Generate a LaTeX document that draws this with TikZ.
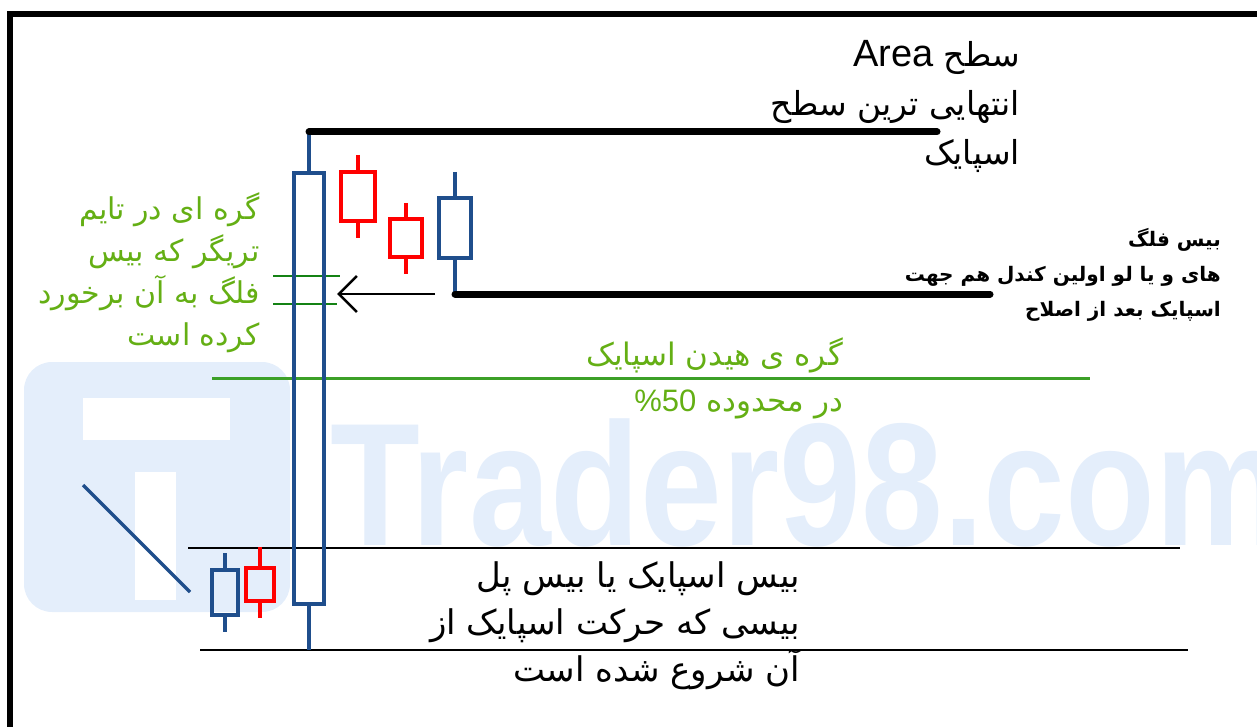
\documentclass[tikz,border=0pt]{standalone}
\usepackage{fontspec}
\setmainfont{Liberation Sans}
\newfontfamily\lat{Liberation Sans}
\newfontfamily\fa[Script=Arabic]{DejaVu Sans}
\TeXXeTstate=1
\usetikzlibrary{arrows.meta, positioning}
\definecolor{candleblue}{RGB}{31,78,140}
\definecolor{candlered}{RGB}{255,0,0}
\definecolor{levelgreen}{RGB}{20,130,20}
\definecolor{midgreen}{RGB}{60,160,40}
\definecolor{notegreen}{RGB}{100,175,20}
\definecolor{wmblue}{RGB}{228,238,251}

\begin{document}
\begin{tikzpicture}[
  x=1pt, y=-1pt,
  candle/.style={line width=3.2pt},
  heavy/.style={line width=7pt, line cap=round},
  thinlevel/.style={line width=2.4pt},
  zone/.style={draw=levelgreen, line width=2.6pt},
  fanote/.style={align=right, inner sep=0pt},
  >={Straight Barb[length=18pt, width=36pt]}
]
\useasboundingbox (0,0) rectangle (1257,727);

% watermark
\fill[wmblue, rounded corners=28pt] (24,362) rectangle (290,612);
\fill[white] (83,398) rectangle (230,440);
\fill[white] (135,472) rectangle (176,600);
\node[wmblue, font=\lat\bfseries\fontsize{175}{175}\selectfont, xscale=0.84,
      anchor=base west, inner sep=0pt] (wm) at (330,545) {Trader98.com};

% frame
\draw[line width=6pt] (9.5,727) -- (9.5,14) -- (1257,14);

% levels
\draw[zone] (273,276) -- (340,276);
\draw[zone] (273,304) -- (337,304);
\draw[midgreen, line width=3pt] (212,378) -- (1090,378);
\draw[thinlevel] (188,548) -- (1180,548);
\draw[thinlevel] (200,650) -- (1188,650);
\draw[candle, candleblue] (83,485) -- (190,592);

% candles: x / wick top / body top / body bottom / wick bottom / half width / colour
\foreach \x/\wt/\bt/\bb/\wb/\w/\c in {
    309/132/173/604/650/15/candleblue,
    358/155/172/221/238/17/candlered,
    406/203/219/257/274/16/candlered,
    455/172/198/258/294/16/candleblue,
    225/553/570/615/632/13/candleblue,
    260/547/568/601/618/14/candlered}
  {\draw[candle, draw=\c] (\x,\wt) -- (\x,\bt) (\x,\bb) -- (\x,\wb);
   \draw[candle, draw=\c] (\x-\w,\bt) rectangle (\x+\w,\bb);}

\coordinate (top) at (309,132);
\coordinate (flag) at (455,294);
\draw[heavy] (top) -- (937,132);
\draw[heavy] (flag) -- (990,294);

\coordinate (tail) at (435,294);
\coordinate (tip) at (337,294);
\draw[->, line width=2.6pt] (tail) -- (tip);

% notes
\node[fanote, font=\fa\fontsize{33}{49}\selectfont, anchor=east] (area) at (1020,106)
  {{\lat\fontsize{38}{49}\selectfont Area} \beginR سطح\endR\\
   \beginR انتهایی ترین سطح\endR\\
   \beginR اسپایک\endR};

\node[fanote, font=\fa\bfseries\fontsize{20}{35}\selectfont, anchor=east] (base) at (1221,275)
  {\beginR بیس فلگ\endR\\
   \beginR های و یا لو اولین کندل هم جهت\endR\\
   \beginR اسپایک بعد از اصلاح\endR};

\node[fanote, notegreen, font=\fa\fontsize{30}{42}\selectfont, anchor=east] (trig) at (260,273)
  {\beginR گره ای در تایم\endR\\
   \beginR تریگر که بیس\endR\\
   \beginR فلگ به آن برخورد\endR\\
   \beginR کرده است\endR};

\node[fanote, notegreen, font=\fa\fontsize{31}{46}\selectfont, anchor=east] (half) at (843,378)
  {\beginR گره ی هیدن اسپایک\endR\\
   {\lat\%50} \beginR در محدوده\endR};

\node[fanote, font=\fa\fontsize{34}{47}\selectfont, anchor=east] (start) at (800,626)
  {\beginR بیس اسپایک یا بیس پل\endR\\
   \beginR بیسی که حرکت اسپایک از\endR\\
   \beginR آن شروع شده است\endR};
\end{tikzpicture}
\end{document}
